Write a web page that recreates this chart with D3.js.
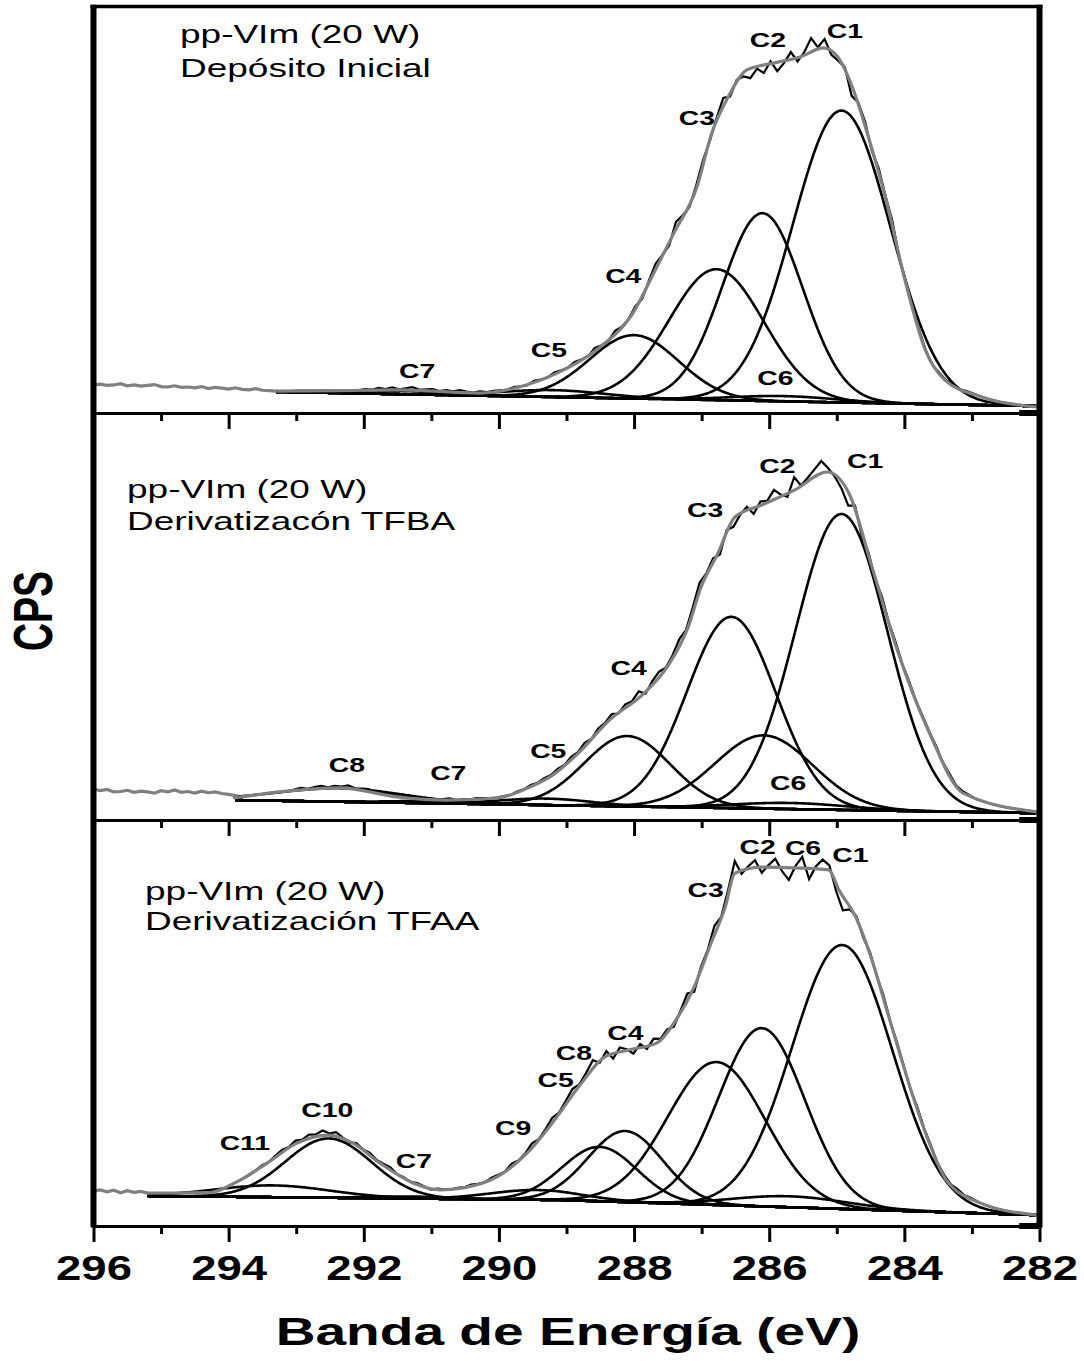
<!DOCTYPE html>
<html>
<head>
<meta charset="utf-8">
<script src="https://cdn.jsdelivr.net/npm/d3@7"></script>
<style>
  body { margin: 0; background: #fff; }
  text { font-family: "Liberation Sans", Arial, sans-serif; fill: #000; }
</style>
</head>
<body>
<svg id="chart" width="1084" height="1361"></svg>
<script>
// ---- data (binding energy in eV, intensity in arbitrary CPS units 0-100 per panel) ----
var ticksMajor = [296, 294, 292, 290, 288, 286, 284, 282];
var ticksMinor = [295, 293, 291, 289, 287, 285, 283];

var titles1 = ["pp-VIm (20 W)", "Depósito Inicial"];
var titles2 = ["pp-VIm (20 W)", "Derivatizacón TFBA"];
var titles3 = ["pp-VIm (20 W)", "Derivatización TFAA"];

// fitted components: name, centre (eV), height, FWHM (eV)
var peaks1 = [["C1", 284.93, 71.8, 1.7], ["C2", 286.10, 46.2, 1.4], ["C3", 286.78, 32.2, 1.65],
              ["C4", 288.00, 15.6, 1.55], ["C5", 289.20, 1.7, 1.8], ["C6", 285.80, 1.3, 1.8],
              ["C7", 291.60, 0.8, 2.2]];
var peaks2 = [["C1", 284.93, 72.7, 1.6], ["C2", 286.08, 18.0, 1.7], ["C3", 286.56, 47.0, 1.55],
              ["C4", 288.10, 17.3, 1.5], ["C5", 289.30, 1.6, 1.6], ["C6", 285.70, 1.5, 2.0],
              ["C7", 291.00, 0.5, 1.5], ["C8", 292.35, 3.3, 2.2]];
var peaks3 = [["C1", 284.92, 65.0, 1.75], ["C2", 286.11, 43.9, 1.5], ["C3", 286.78, 35.2, 1.7],
              ["C4", 288.13, 17.5, 1.3], ["C5", 288.51, 13.4, 1.3], ["C6", 285.70, 2.7, 2.0],
              ["C7", 291.30, 0.5, 1.5], ["C9", 289.45, 2.4, 1.6], ["C10", 292.52, 14.6, 1.5],
              ["C11", 293.35, 2.9, 2.0]];

// background (eV, value) - the fitted window starts at the first point
var background1 = [[293.3, 5.2], [282.05, 1.7]];
var background2 = [[293.9, 4.9], [282.05, 1.7]];
var background3 = [[295.2, 7.4], [289.1, 6.4], [282.05, 2.7]];

// fit envelope (eV, value)
var envelope1 = [[293.28, 5.4], [292.40, 5.5], [291.46, 5.7], [290.29, 4.9], [289.70, 6.4],
                 [289.14, 9.8], [288.56, 15.5], [287.99, 25.3], [287.71, 34.4], [287.41, 44.3],
                 [287.07, 55.6], [286.85, 68.9], [286.61, 77.7], [286.33, 84.4], [285.90, 86.2],
                 [285.54, 87.6], [285.20, 89.8], [285.01, 88.1], [284.77, 80.2], [284.55, 68.9],
                 [284.27, 52.4], [283.98, 32.0], [283.69, 15.5], [283.40, 8.1], [282.84, 3.9],
                 [282.04, 1.5]];
var envelope2 = [[293.93, 5.4], [293.24, 6.9], [292.35, 7.9], [291.51, 5.7], [290.77, 4.9],
                 [290.03, 5.4], [289.54, 8.1], [289.20, 11.1], [288.84, 16.2], [288.36, 24.6],
                 [287.85, 31.2], [287.51, 37.6], [287.20, 47.4], [287.01, 57.2], [286.76, 65.5],
                 [286.51, 74.4], [286.11, 77.4], [285.62, 81.1], [285.14, 85.5], [284.82, 80.3],
                 [284.48, 62.2], [284.12, 42.5], [283.63, 21.4], [283.13, 6.6], [282.04, 2.0]];
var envelope3 = [[295.21, 8.1], [294.32, 8.2], [293.83, 11.3], [293.43, 15.5], [292.99, 20.4],
                 [292.53, 22.4], [292.16, 20.4], [291.76, 15.5], [291.27, 10.6], [290.87, 8.9],
                 [290.53, 9.4], [290.03, 12.1], [289.58, 18.0], [289.20, 25.6], [288.80, 34.7],
                 [288.44, 41.6], [288.10, 43.3], [287.66, 45.1], [287.41, 50.0], [287.11, 58.9],
                 [286.86, 69.7], [286.65, 78.6], [286.51, 86.9], [286.11, 88.4], [285.62, 88.2],
                 [285.12, 87.7], [284.97, 82.8], [284.72, 76.1], [284.48, 65.5], [284.23, 51.5],
                 [283.87, 31.8], [283.63, 20.4], [283.38, 11.3], [282.88, 5.7], [282.04, 2.7]];

// raw counts outside the fitted window, from 296 eV in 0.1 eV steps
var rawLeft1 = [6.9, 7.1, 6.8, 6.9, 7.2, 6.7, 6.9, 6.6, 6.8, 7.0, 6.5, 6.4, 6.7, 6.3, 6.4,
                6.2, 6.5, 6.0, 6.3, 6.1, 5.9, 6.2, 5.8, 5.7, 6.0, 5.6, 5.5, 5.4];
var rawLeft2 = [7.6, 7.2, 7.5, 6.9, 7.0, 7.3, 6.8, 7.1, 6.9, 6.6, 7.2, 6.9, 7.4, 6.8, 7.0,
                6.6, 7.1, 6.7, 6.9, 6.5, 6.3, 6.0];
var rawLeft3 = [8.6, 8.9, 8.4, 8.8, 8.2, 8.7, 8.3, 8.5, 8.1];

// measured minus fit, 0.1 eV steps from noiseStart
var noiseStart1 = 292.0;
var noise1 = [0.3, 0.1, 0.5, 0.2, 0.6, 0.1, 0.4, 0.7, 0.2, 0.3,
              0.5, 0.1, 0.4, 0.2, 0.6, 0.3, 0.1, 0.4, 0.2, 0.3,
              0.2, 0.0, 0.3, 0.1, -0.1, 0.4, 0.1, 0.0, 0.5, 0.2,
              0.1, 0.6, 0.2, 0.0, 0.8, 0.1, -0.2, 0.9, 0.2, 0.1,
              0.7, -0.6, 0.5, 1.4, 0.2, -0.8, 1.8, 0.5, -0.4, 0.9,
              1.2, -0.4, 0.5, 2.0, -0.8, 0.4, -1.0, -2.4, -0.6, -2.0,
              0.6, -2.2, -0.5, 1.8, -0.9, 0.8, 3.4, 0.4, 2.2, -1.0,
              -0.8, 0.5, -2.6, 0.4, 1.0, -0.6, 1.0, 0.4, 1.2, -0.3,
              0.4, 0.1, 0.5, 0.2, 0.0, 0.4, 0.2, 0.6, 0.1, 0.3, 0.2];
var noiseStart2 = 293.0;
var noise2 = [0.2, 0.5, 0.1, 0.4, 0.6, 0.2, 0.5, 0.3, 0.7, 0.2,
              0.4, 0.6, 0.1, 0.5, 0.3, 0.4, 0.1, 0.3, 0.2, 0.0,
              0.3, 0.1, 0.2, 0.4, 0.0, 0.2, 0.1, 0.3, 0.2, 0.1,
              0.1, 0.2, 0.0, 0.3, 0.1, 0.4, 0.2, 0.5, 0.3, 0.6,
              0.2, 0.7, 0.3, 0.9, 0.1, 0.8, 0.4, 1.0, -0.2, 0.9,
              0.5, 1.6, -0.5, 1.0, 1.5, 0.3, 0.8, 1.9, 0.6, 1.4,
              2.0, 0.4, 1.0, -1.4, 0.5, -2.0, -0.4, 0.8, -1.5, 1.0,
              0.4, 2.4, 0.5, -0.8, 3.2, 0.2, 0.9, 1.8, 3.0, 1.0,
              -0.5, -1.8, -3.4, 0.7, -1.2, 0.6, -0.4, 1.0, 0.3, 0.8,
              0.2, 0.6, 0.1, 0.4, 0.3, 0.5, 0.2, 0.6, 0.3, 0.4, 0.2];
var noiseStart3 = 293.6;
var noise3 = [0.1, 0.3, 0.0, 0.4, 0.6, 0.2, 0.8, 0.3, 0.9, 0.5,
              1.2, 0.4, 1.0, 0.2, -0.3, 0.5, 0.1, 0.6, 0.2, 0.4,
              0.7, 0.1, 0.3, 0.0, 0.4, 0.2, -0.2, 0.3, 0.1, 0.0,
              0.2, 0.1, 0.4, 0.2, 0.0, 0.5, 0.3, 0.1, 0.8, 0.2,
              0.4, 1.1, 0.2, 0.6, 1.3, 0.3, 0.9, 1.5, 0.4, 1.0,
              2.0, -0.5, 1.2, -1.3, 1.1, 0.3, -1.2, 0.9, -0.6, 1.4,
              0.4, 0.8, -0.9, 0.6, 1.8, -1.2, 0.8, 0.5, 2.2, 0.4,
              1.4, 3.0, -0.8, 0.6, 1.8, -1.4, 0.5, 2.1, -0.9, -3.0,
              0.5, 2.8, -2.6, 0.6, 2.4, 1.2, -1.8, -3.4, -0.8, 0.6,
              -0.6, 0.5, -0.2, 0.8, 0.1, 0.5, 0.3, -0.2, 0.6, 0.2,
              0.4, 0.1, 0.5, 0.3, 0.6, 0.2, 0.3];

// peak labels: text, eV, value
var labels1 = [["C1", 284.88, 92.3], ["C2", 286.02, 90.0], ["C3", 287.07, 70.8], ["C4", 288.16, 32.0],
               ["C5", 289.26, 13.8], ["C6", 285.91, 6.9], ["C7", 291.21, 8.6]];
var labels2 = [["C1", 284.58, 86.5], ["C2", 285.88, 85.3], ["C3", 286.95, 74.4], ["C4", 288.08, 35.6],
               ["C5", 289.27, 15.2], ["C6", 285.72, 7.4], ["C7", 290.75, 9.8], ["C8", 292.25, 11.8]];
var labels3 = [["C1", 284.80, 89.7], ["C2", 286.17, 91.6], ["C6", 285.50, 91.4], ["C3", 286.94, 81.0],
               ["C4", 288.13, 45.8], ["C8", 288.89, 40.9], ["C5", 289.16, 34.2], ["C9", 289.79, 22.4],
               ["C10", 292.54, 26.8], ["C11", 293.76, 18.7], ["C7", 291.26, 14.3]];

// ---- layout ----
var panelBox = [[6.5, 413], [413, 820], [820, 1226]];
var titlePos = [[180, 43, 34], [127, 498, 32], [145, 900, 30]];

var panels = [
  {titles: titles1, peaks: peaks1, bg: background1, env: envelope1, left: rawLeft1, noise: noise1, noiseStart: noiseStart1, labels: labels1},
  {titles: titles2, peaks: peaks2, bg: background2, env: envelope2, left: rawLeft2, noise: noise2, noiseStart: noiseStart2, labels: labels2},
  {titles: titles3, peaks: peaks3, bg: background3, env: envelope3, left: rawLeft3, noise: noise3, noiseStart: noiseStart3, labels: labels3}
];

var svg = d3.select('#chart');
var x = d3.scaleLinear().domain([296, 282]).range([93.5, 1039.5]);
var grey = '#808080';

function gauss(p, e) {
  return p[2] * Math.exp(-4 * Math.LN2 * (e - p[1]) * (e - p[1]) / (p[3] * p[3]));
}

function stretched(sel, px, py, sx) {
  return sel.attr('transform', 'translate(' + px + ',' + py + ') scale(' + sx + ',1)');
}

panels.forEach(function(p, i) {
  var top = panelBox[i][0], bottom = panelBox[i][1];
  var y = d3.scaleLinear().domain([0, 100]).range([bottom, top]);
  var base = d3.scaleLinear()
      .domain(p.bg.map(function(d) { return d[0]; }))
      .range(p.bg.map(function(d) { return d[1]; }))
      .clamp(true);
  var start = p.bg[0][0];
  var end = p.bg[p.bg.length - 1][0];

  var grid = d3.range(start, end - 0.001, -0.02).concat([end]);
  var line = d3.line().x(function(d) { return x(d[0]); }).y(function(d) { return y(d[1]); });
  var g = svg.append('g');
  var gComp = g.append('g'), gRaw = g.append('g'), gEnv = g.append('g');

  // components and background
  p.peaks.forEach(function(pk) {
    gComp.append('path')
      .attr('d', line(grid.map(function(e) { return [e, base(e) + gauss(pk, e)]; })))
      .attr('fill', 'none').attr('stroke', '#000').attr('stroke-width', 2.6);
  });
  gComp.append('path')
    .attr('d', line(grid.map(function(e) { return [e, base(e)]; })))
    .attr('fill', 'none').attr('stroke', '#000').attr('stroke-width', 2.6);

  // fit envelope
  var envPath = gEnv.append('path')
    .attr('d', line.curve(d3.curveMonotoneX)(p.env))
    .attr('fill', 'none').attr('stroke', grey).attr('stroke-width', 3.2);
  line.curve(d3.curveLinear);

  // look-up of the drawn envelope, screen x -> screen y
  var node = envPath.node(), len = node.getTotalLength();
  var pts = d3.range(0, len, 0.5).map(function(l) {
    var q = node.getPointAtLength(l); return [q.x, q.y];
  });
  var bis = d3.bisector(function(d) { return d[0]; }).left;
  function envY(px) {
    var k = Math.max(1, Math.min(pts.length - 1, bis(pts, px)));
    var a = pts[k - 1], b = pts[k];
    var t = b[0] === a[0] ? 0 : (px - a[0]) / (b[0] - a[0]);
    return a[1] + t * (b[1] - a[1]);
  }
  var unit = y(0) - y(1);

  // measured spectrum inside the fitted window
  var firstE = p.env[0][0], lastE = p.env[p.env.length - 1][0];
  var nRaw = Math.floor((firstE - lastE) / 0.1 + 1e-6);
  var raw = d3.range(nRaw + 1).map(function(k) {
    var e = firstE - 0.1 * k;
    var j = Math.round((p.noiseStart - e) / 0.1);
    var r = (j >= 0 && j < p.noise.length) ? p.noise[j] : 0;
    var px = x(e);
    return [px, envY(px) - r * unit];
  });
  gRaw.append('path').attr('d', d3.line()(raw))
    .attr('fill', 'none').attr('stroke', '#000').attr('stroke-width', 2.2);

  // measured spectrum outside the fitted window
  var left = p.left.map(function(v, k) { return [296 - 0.1 * k, v]; });
  left.push(p.env[0]);
  gEnv.append('path').attr('d', line(left))
    .attr('fill', 'none').attr('stroke', grey).attr('stroke-width', 3.2);

  // titles
  p.titles.forEach(function(t, k) {
    stretched(g.append('text'), titlePos[i][0], titlePos[i][1] + k * titlePos[i][2], 1.48)
      .style('font-size', '25px').text(t);
  });

  // peak labels
  p.labels.forEach(function(l) {
    stretched(g.append('text'), x(l[1]), y(l[2]), 1.35)
      .attr('text-anchor', 'middle')
      .style('font-size', '21px').style('font-weight', 'bold').text(l[0]);
  });

  // bottom axis of panel
  var isLast = i === panels.length - 1;
  var axMajor = svg.append('g').attr('transform', 'translate(0,' + bottom + ')')
    .call(d3.axisBottom(x).tickValues(ticksMajor).tickSize(16).tickSizeOuter(0).tickFormat(''));
  axMajor.select('.domain').attr('stroke-width', 3);
  axMajor.selectAll('.tick line').attr('stroke-width', 3);
  axMajor.selectAll('.tick text').remove();
  if (isLast) {
    axMajor.selectAll('.tick').append('text')
      .attr('transform', 'translate(0,54) scale(1.3,1)')
      .attr('text-anchor', 'middle')
      .style('font-size', '35px').style('font-weight', 'bold')
      .text(function(d) { return d; });
  }
  var axMinor = svg.append('g').attr('transform', 'translate(0,' + bottom + ')')
    .call(d3.axisBottom(x).tickValues(ticksMinor).tickSize(8).tickSizeOuter(0).tickFormat(''));
  axMinor.select('.domain').remove();
  axMinor.selectAll('.tick line').attr('stroke-width', 3);

  // short heavy piece at the right end of the axis
  svg.append('line')
    .attr('x1', x(282.3)).attr('x2', x(282)).attr('y1', bottom).attr('y2', bottom)
    .attr('stroke', '#000').attr('stroke-width', 6);
});

// frame
svg.append('line').attr('x1', x(296) - 3).attr('x2', x(282) + 3)
  .attr('y1', panelBox[0][0]).attr('y2', panelBox[0][0])
  .attr('stroke', '#000').attr('stroke-width', 3.5);
[296, 282].forEach(function(e) {
  svg.append('line').attr('x1', x(e)).attr('x2', x(e))
    .attr('y1', panelBox[0][0] - 1.7).attr('y2', panelBox[2][1] + 1.5)
    .attr('stroke', '#000').attr('stroke-width', 6);
});

// axis titles
stretched(svg.append('text'), 568, 1345, 1.45)
  .attr('text-anchor', 'middle')
  .style('font-size', '38px').style('font-weight', 'bold')
  .text('Banda de Energía (eV)');
svg.append('text')
  .attr('transform', 'translate(52,611) scale(1.43,1) rotate(-90)')
  .attr('text-anchor', 'middle')
  .style('font-size', '39px').style('font-weight', 'bold')
  .text('CPS');
</script>
</body>
</html>
